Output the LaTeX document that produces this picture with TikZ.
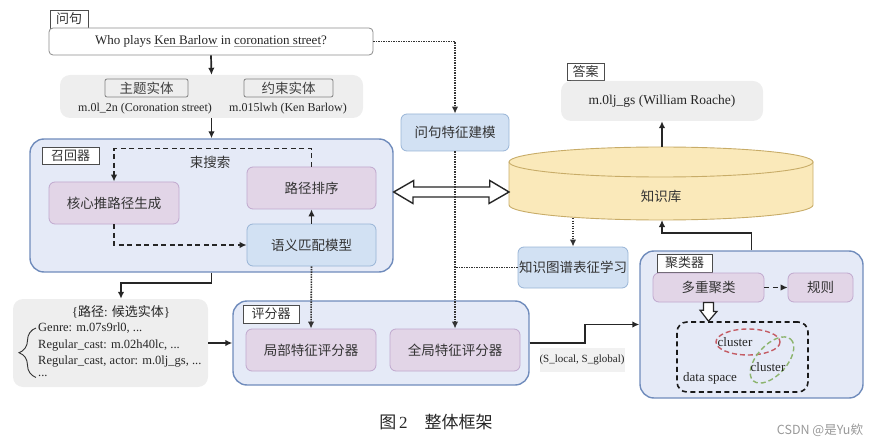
\documentclass[tikz,border=0pt]{standalone}
\usepackage{fontspec}
\setmainfont{Liberation Serif}
\newfontfamily\cjk{Noto Sans CJK SC}
\usetikzlibrary{arrows.meta,decorations.pathreplacing}

\definecolor{contfill}{RGB}{229,234,247}
\definecolor{contline}{RGB}{112,140,188}
\definecolor{purplefill}{RGB}{226,213,231}
\definecolor{purpleline}{RGB}{192,168,206}
\definecolor{bluefill}{RGB}{210,225,243}
\definecolor{blueline}{RGB}{152,180,214}
\definecolor{grayfill}{RGB}{238,238,238}
\definecolor{kbfill}{RGB}{250,233,186}
\definecolor{kbline}{RGB}{200,172,104}
\definecolor{redline}{RGB}{196,92,100}
\definecolor{greenline}{RGB}{140,180,110}

\newcommand{\cjkbig}{\cjk\fontsize{13.5}{16}\selectfont}
\newcommand{\qul}[1]{{\color{gray!70}\underline{\color{black!85}#1}}}

\tikzstyle{container}=[draw=contline,fill=contfill,line width=1.4pt,rounded corners=14pt]
\tikzstyle{tagBox}=[draw=black!70,fill=white,line width=0.9pt,inner sep=0pt,text=black!80,font=\cjk\fontsize{13}{15}\selectfont]
\tikzstyle{entityTag}=[draw=black!50,fill=grayfill,line width=0.8pt,rounded corners=2pt,inner sep=0pt,text=black!75,font=\cjkbig]
\tikzstyle{purpleBox}=[draw=purpleline,fill=purplefill,line width=0.8pt,rounded corners=6pt,inner sep=0pt,text=black!80,font=\cjkbig]
\tikzstyle{blueBox}=[draw=blueline,fill=bluefill,line width=0.8pt,rounded corners=6pt,inner sep=0pt,text=black!80,font=\cjkbig]
\tikzstyle{grayBox}=[fill=grayfill,rounded corners=10pt,inner sep=0pt,text=black!85]
\tikzstyle{plainText}=[inner sep=1pt,text=black!85,font=\fontsize{12.5}{15}\selectfont]
\tikzstyle{solidArrow}=[->,line width=1.7pt,black!85]
\tikzstyle{dashedArrow}=[->,line width=1.6pt,black!85,dash pattern=on 5pt off 3.5pt]
\tikzstyle{dottedLine}=[line width=1.6pt,black!80,dash pattern=on 1.4pt off 1.1pt]
\tikzstyle{dottedArrow}=[->,dottedLine]
\tikzstyle{hollowArrow}=[draw=black!85,fill=white,line width=1.4pt,line join=miter]

\begin{document}
\begin{tikzpicture}[x=1pt,y=-1pt,>={Latex[length=7pt,width=6.5pt]}]
        \useasboundingbox (0,0) rectangle (882,446);

        % question
        \node[tagBox,minimum width=38,minimum height=18] (qtag) at (69,19) {问句};
        \node[draw=black!45,fill=white,line width=0.8pt,rounded corners=4pt,minimum width=324,minimum height=27,
              text=black!85,font=\fontsize{13}{15}\selectfont] (question) at (211,41.5)
              {Who plays \qul{Ken Barlow} in \qul{coronation street}?};

        % entities
        \node[grayBox,minimum width=303,minimum height=43] (entities) at (211.5,96.5) {};
        \node[entityTag,minimum width=83,minimum height=18] (topic) at (146.5,88) {主题实体};
        \node[entityTag,minimum width=89,minimum height=18] (constr) at (288.5,88) {约束实体};
        \node[plainText,font=\fontsize{12}{14}\selectfont] (topicid) at (145,109) {m.0l\_2n (Coronation street)};
        \node[plainText,font=\fontsize{12}{14}\selectfont] (constrid) at (288,109) {m.015lwh (Ken Barlow)};

        % recall
        \node[container,minimum width=363,minimum height=133] (recall) at (211.5,205.5) {};
        \node[tagBox,minimum width=57,minimum height=17] (recalltag) at (70.5,155.5) {召回器};
        \node[text=black!80,font=\cjkbig] (beam) at (210,162) {束搜索};
        \node[purpleBox,minimum width=130,minimum height=42] (core) at (114,203) {核心推路径生成};
        \node[purpleBox,minimum width=129,minimum height=42] (rank) at (311.5,188) {路径排序};
        \node[blueBox,minimum width=129,minimum height=42] (match) at (311.5,245) {语义匹配模型};

        % knowledge base
        \filldraw[fill=kbfill,draw=kbline,line width=0.9pt] (509,162) -- (509,205)
              arc[start angle=180,end angle=0,x radius=152,y radius=15] -- (813,162) -- cycle;
        \filldraw[fill=kbfill,draw=kbline,line width=0.9pt] (661,162) ellipse[x radius=152,y radius=15];
        \node[text=black!80,font=\cjkbig] (kb) at (661,196) {知识库};
        \coordinate (kbtop) at (662,147);
        \coordinate (kbbot) at (662,220);
        \coordinate (kbout) at (573,218);
        \coordinate (kbleft) at (509,192);

        \draw[hollowArrow] (recall.east |- kbleft) -- ++(20,-11.5) -- ++(0,6.5) -- ++(76,0) -- ++(0,-6.5)
              -- (kbleft) -- ++(-20,11.5) -- ++(0,-6.5) -- ++(-76,0) -- ++(0,6.5) -- cycle;

        % answer
        \node[tagBox,minimum width=37,minimum height=17] (anstag) at (585.5,71.5) {答案};
        \node[grayBox,minimum width=202,minimum height=40,font=\fontsize{13.5}{16}\selectfont] (answer) at (662,101)
              {m.0lj\_gs (William Roache)};

        \node[blueBox,minimum width=108,minimum height=37] (qfeat) at (455,132.5) {问句特征建模};
        \node[blueBox,minimum width=110,minimum height=41] (kglearn) at (573,267.5) {知识图谱表征学习};

        % candidate paths
        \node[grayBox,minimum width=195,minimum height=88] (paths) at (110.5,343) {};
        \node[plainText,font=\fontsize{13}{15}\selectfont] (pathtitle) at (121,312)
              {\{{\cjk 路径}: {\cjk 候选实体}\}};
        \node[plainText,anchor=west] (genre) at (37,328) {Genre: m.07s9rl0, ...};
        \node[plainText,anchor=west] (regcast) at (37,345.5) {Regular\_cast: m.02h40lc, ...};
        \node[plainText,anchor=west] (regactor) at (37,362) {Regular\_cast, actor: m.0lj\_gs, ...};
        \node[plainText,anchor=west,inner sep=0pt] (more) at (38,375.5) {...};
        \draw[decorate,decoration={brace,amplitude=17pt},line width=0.9pt,black!80]
              ([xshift=-2pt,yshift=-1pt]more.south west) -- ([xshift=-1pt]genre.west);

        % scorer
        \node[container,minimum width=296,minimum height=84] (score) at (381,343) {};
        \node[tagBox,minimum width=56,minimum height=18] (scoretag) at (271,314) {评分器};
        \node[purpleBox,minimum width=130,minimum height=42] (local) at (311,350) {局部特征评分器};
        \node[purpleBox,minimum width=130,minimum height=42] (global) at (455,350) {全局特征评分器};
        \node[fill=grayfill!80,inner sep=0pt,minimum width=85,minimum height=24,text=black!85,
              font=\fontsize{11}{13}\selectfont] (sval) at (582,360) {(S\_local, S\_global)};

        % clusterer
        \node[container,minimum width=223,minimum height=147] (cluster) at (751.5,324.5) {};
        \node[tagBox,minimum width=55,minimum height=18] (clustertag) at (684.5,263) {聚类器};
        \node[purpleBox,minimum width=111,minimum height=29] (multi) at (708.5,287.5) {多重聚类};
        \node[purpleBox,minimum width=65,minimum height=29] (rule) at (820.5,287.5) {规则};
        \node[draw=black!90,line width=1.6pt,dash pattern=on 5pt off 3.5pt,rounded corners=10pt,
              minimum width=131,minimum height=70] (space) at (742.5,357) {};
        \draw[redline,line width=1.4pt,dash pattern=on 5pt off 3pt] (748,342) ellipse[x radius=32,y radius=13];
        \draw[greenline,line width=1.4pt,dash pattern=on 5pt off 3pt,rotate around={48:(772,360)}]
              (772,360) ellipse[x radius=28,y radius=15];
        \node[plainText,font=\fontsize{13}{15}\selectfont] (cl1) at (735,342) {cluster};
        \node[plainText,font=\fontsize{13}{15}\selectfont] (cl2) at (768,367) {cluster};
        \node[plainText,font=\fontsize{13}{15}\selectfont] (dspace) at (710,378) {data space};
        \draw[hollowArrow,line width=1.2pt] (multi.south) ++(-5,0) -- ++(10,0) -- ++(0,9) -- ++(3.5,0)
              -- (multi.south |- space.north) -- ++(-8.5,-11) -- ++(3.5,0) -- cycle;

        \draw [solidArrow] (question.south) -- (entities.north);
        \draw [solidArrow] (entities.south) -- (recall.north);
        \draw [dashedArrow] (rank.north) -- ++(0,-18) -| (core.north);
        \draw [dashedArrow] (core.south) |- (match.west);
        \draw [solidArrow] (match.north) -- (rank.south);
        \draw [solidArrow] (recall.south) -- ++(0,10) -| (pathtitle.north |- paths.north);
        \draw [solidArrow] (paths.east) -- (score.west);
        \draw [dottedArrow] (match.south) -- (local.north);
        \draw [dottedArrow] (question.east) -| (qfeat.north);
        \draw [dottedArrow] (qfeat.south) -- (global.north);
        \draw [dottedLine] (kglearn.west) -- (kglearn.west -| qfeat.south);
        \draw [dottedArrow] (kbout) -- (kglearn.north);
        \draw [solidArrow] (kbtop) -- (answer.south);
        \draw [solidArrow] (cluster.north) -- ++(0,-17) -| (kbbot);
        \draw [solidArrow] (score.east) -- ++(55,0) |- (cluster.west);
        \draw [dashedArrow] (multi.east) -- (rule.west);

        % caption
        \node[text=black!85,font=\fontsize{17}{20}\selectfont] (caption) at (436,422) {{\cjk 图}\,2\hspace{1em}{\cjk 整体框架}};
        \node[text=black!40,font=\cjk\fontsize{12.5}{15}\selectfont] (mark) at (820,430) {CSDN @是Yu欸};
\end{tikzpicture}
\end{document}
